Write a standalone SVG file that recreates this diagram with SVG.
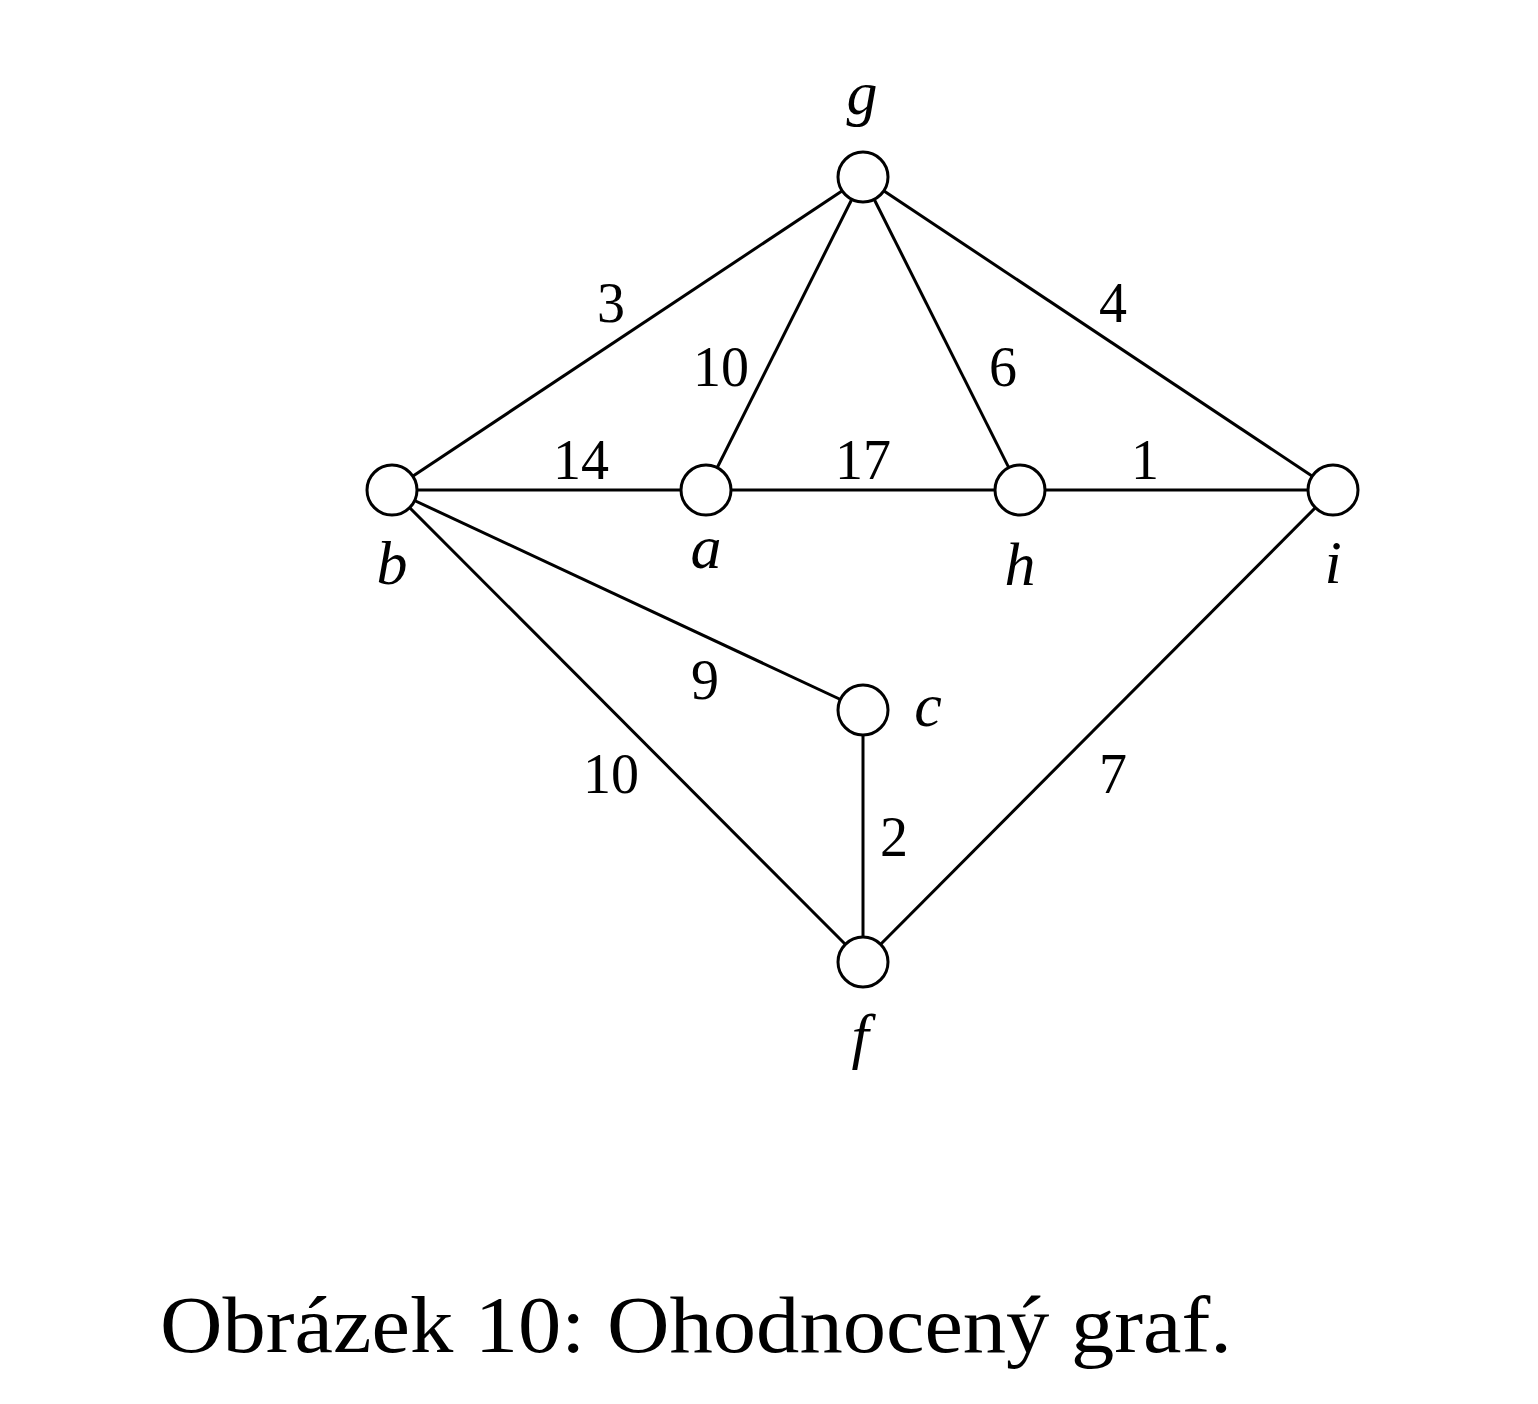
<svg xmlns="http://www.w3.org/2000/svg" width="1538" height="1404" viewBox="0 0 1538 1404">
<style>
.e{stroke:#000;stroke-width:3;fill:none}
.n{fill:#fff;stroke:#000;stroke-width:3}
.v{font-family:"Liberation Serif",serif;font-style:italic;font-size:62px;text-anchor:middle;fill:#000}
.w{font-family:"Liberation Serif",serif;font-size:56px;text-anchor:middle;fill:#000}
.cap{font-family:"Liberation Serif",serif;font-size:80px;fill:#000}
</style>
<rect width="1538" height="1404" fill="#fff"/>
<g id="edges">
<line class="e" x1="863" y1="177" x2="392" y2="490"/>
<line class="e" x1="863" y1="177" x2="706" y2="490"/>
<line class="e" x1="863" y1="177" x2="1020" y2="490"/>
<line class="e" x1="863" y1="177" x2="1333" y2="490"/>
<line class="e" x1="392" y1="490" x2="1333" y2="490"/>
<line class="e" x1="392" y1="490" x2="863" y2="710"/>
<line class="e" x1="392" y1="490" x2="863" y2="962"/>
<line class="e" x1="863" y1="710" x2="863" y2="962"/>
<line class="e" x1="1333" y1="490" x2="863" y2="962"/>
</g>
<g id="edge-labels">
<text class="w" x="611" y="322">3</text>
<text class="w" x="721" y="386">10</text>
<text class="w" x="1003" y="386">6</text>
<text class="w" x="1113" y="322">4</text>
<text class="w" x="581" y="479">14</text>
<text class="w" x="863" y="479">17</text>
<text class="w" x="1145" y="479">1</text>
<text class="w" x="705" y="699">9</text>
<text class="w" x="611" y="793">10</text>
<text class="w" x="894" y="856">2</text>
<text class="w" x="1113" y="793">7</text>
</g>
<g id="node-g"><circle class="n" cx="863" cy="177" r="25"/><text class="v" x="862" y="114">g</text></g>
<g id="node-b"><circle class="n" cx="392" cy="490" r="25"/><text class="v" x="392" y="584">b</text></g>
<g id="node-a"><circle class="n" cx="706" cy="490" r="25"/><text class="v" x="706" y="568">a</text></g>
<g id="node-h"><circle class="n" cx="1020" cy="490" r="25"/><text class="v" x="1020" y="585">h</text></g>
<g id="node-i"><circle class="n" cx="1333" cy="490" r="25"/><text class="v" x="1333" y="583">i</text></g>
<g id="node-c"><circle class="n" cx="863" cy="710" r="25"/><text class="v" x="928" y="726">c</text></g>
<g id="node-f"><circle class="n" cx="863" cy="962" r="25"/><text class="v" x="860" y="1057">f</text></g>
<text class="cap" x="160" y="1352" textLength="1072" lengthAdjust="spacingAndGlyphs">Obrázek 10: Ohodnocený graf.</text>
</svg>
